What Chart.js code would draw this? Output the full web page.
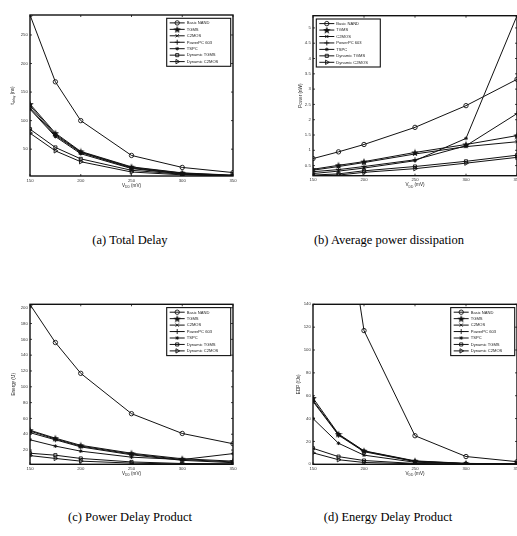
<!DOCTYPE html>
<html>
<head>
<meta charset="utf-8">
<script src="https://cdn.jsdelivr.net/npm/chart.js@4.4.0/dist/chart.umd.min.js"></script>
<style>
  html, body { margin: 0; padding: 0; background: #fff; overflow: hidden; }
  #page { position: relative; width: 517px; height: 536px; overflow: hidden; background: #fff; }
  #page canvas { position: absolute; }
  .cap { position: absolute; font-family: "Liberation Serif", "Times New Roman", serif; font-size: 12.5px;
         color: #000; white-space: nowrap; transform: translateX(-50%); line-height: 1; }
</style>
</head>
<body>
<div id="page">
  <canvas id="cA"></canvas>
  <canvas id="cB"></canvas>
  <canvas id="cC"></canvas>
  <canvas id="cD"></canvas>
  <div class="cap" style="left:130px; top:234px;">(a) Total Delay</div>
  <div class="cap" style="left:389px; top:234px;">(b) Average power dissipation</div>
  <div class="cap" style="left:130px; top:511px;">(c) Power Delay Product</div>
  <div class="cap" style="left:388px; top:511px;">(d) Energy Delay Product</div>
</div>
<script>
// Supply voltage sweep (mV)
const vdd = [150, 175, 200, 250, 300, 350];
const vddTicks = [150, 200, 250, 300, 350];
const seriesNames = ['Basic NAND', 'TGMS', 'C2MOS', 'PowerPC 603', 'TSPC', 'Dynamic TGMS', 'Dynamic C2MOS'];

// Total delay (ns), one row per series in seriesNames order
const totalDelay = [
  [285, 168, 100, 39, 18, 9],
  [129, 78, 46, 19, 8.5, 4.5],
  [126, 76, 45, 18, 8, 4],
  [122, 74, 44, 17, 7, 3.7],
  [120, 72, 42, 16, 6.5, 3.4],
  [85, 53, 33, 13, 6, 3.2],
  [78, 47, 28, 10, 5, 3]
];
const delayTicks = [50, 100, 150, 200, 250];

// Average power (nW)
const avgPower = [
  [0.73, 0.95, 1.19, 1.75, 2.46, 3.32],
  [0.38, 0.51, 0.63, 0.93, 1.19, 1.48],
  [0.35, 0.47, 0.60, 0.88, 1.12, 1.28],
  [0.30, 0.37, 0.47, 0.69, 1.15, 2.2],
  [0.24, 0.32, 0.42, 0.66, 1.39, 5.4],
  [0.19, 0.23, 0.33, 0.47, 0.64, 0.84],
  [0.17, 0.19, 0.28, 0.40, 0.58, 0.77]
];
const powerTicks = [0.5, 1, 1.5, 2, 2.5, 3, 3.5, 4, 4.5, 5];

// Power delay product (fJ)
const energy = [
  [204, 156, 117, 66, 41, 28],
  [45, 35, 26, 16, 9, 6],
  [44, 34, 25, 15, 8, 5],
  [42, 33, 24, 14, 7, 4],
  [33, 25, 18.6, 11, 8, 15.5],
  [16, 13.5, 9.4, 5, 3, 2.6],
  [13, 9.4, 6, 3.5, 2.3, 2]
];
const energyTicks = [20, 40, 60, 80, 100, 120, 140, 160, 180, 200];

// Energy delay product
const edp = [
  [580, 262, 117, 25, 6.8, 2.3],
  [58, 26.5, 11.8, 3, 0.8, 0.3],
  [56, 26, 11.5, 2.7, 0.7, 0.25],
  [55, 25.5, 11, 2.4, 0.5, 0.2],
  [40, 18.4, 8, 1.8, 0.6, 0.5],
  [14, 6.7, 3.3, 0.7, 0.2, 0.1],
  [10, 4, 1.6, 0.4, 0.1, 0.05]
];
const edpTicks = [0, 20, 40, 60, 80, 100, 120, 140];

const FONT = '"Liberation Sans", Arial, Helvetica, sans-serif';
const INK = '#111';

// filled five-point star marker
function makePentagram(size) {
  const c = document.createElement('canvas');
  c.width = size; c.height = size;
  const g = c.getContext('2d');
  g.fillStyle = INK;
  g.beginPath();
  const cx = size / 2, cy = size / 2 + 0.4, R = size / 2, r = R * 0.42;
  for (let i = 0; i < 10; i++) {
    const a = -Math.PI / 2 + i * Math.PI / 5;
    const rr = i % 2 ? r : R;
    g.lineTo(cx + rr * Math.cos(a), cy + rr * Math.sin(a));
  }
  g.closePath();
  g.fill();
  return c;
}
const starMarker = makePentagram(8);

const markerStyles = [
  { pointStyle: 'circle', radius: 2.2, rotation: 0 },
  { pointStyle: starMarker, radius: 3.5, rotation: 0 },
  { pointStyle: 'crossRot', radius: 2.2, rotation: 0 },
  { pointStyle: 'cross', radius: 2.5, rotation: 0 },
  { pointStyle: 'star', radius: 1.8, rotation: 0 },
  { pointStyle: 'rect', radius: 2.2, rotation: 0 },
  { pointStyle: 'triangle', radius: 2.5, rotation: 90 }
];

function buildDatasets(values) {
  return seriesNames.map((name, i) => ({
    label: name,
    data: vdd.map((x, j) => ({ x: x, y: values[i][j] })),
    borderColor: INK,
    borderWidth: 1,
    pointStyle: markerStyles[i].pointStyle,
    pointRadius: markerStyles[i].radius,
    pointRotation: markerStyles[i].rotation,
    pointBorderColor: INK,
    pointBackgroundColor: 'rgba(0,0,0,0)',
    pointBorderWidth: 0.9,
    tension: 0,
    fill: false
  }));
}

function measureRich(ctx, parts, size) {
  let w = 0;
  for (const [t, sub] of parts) {
    ctx.font = (sub ? size * 0.7 : size) + 'px ' + FONT;
    w += ctx.measureText(t).width;
  }
  return w;
}
function drawRich(ctx, parts, size, x, y) {
  for (const [t, sub] of parts) {
    ctx.font = (sub ? size * 0.7 : size) + 'px ' + FONT;
    ctx.fillText(t, x, y + (sub ? size * 0.3 : 0));
    x += ctx.measureText(t).width;
  }
}

// Box frame with inward ticks, axis titles and an inset legend
function axesDecor(p) {
  return {
    id: 'axesDecor',
    afterDatasetsDraw(chart) {
      const ctx = chart.ctx, a = chart.chartArea;
      const xs = chart.scales.x, ys = chart.scales.y;
      ctx.save();
      ctx.strokeStyle = INK;
      ctx.lineWidth = 0.8;
      ctx.beginPath();
      for (const v of vddTicks) {
        const px = xs.getPixelForValue(v);
        ctx.moveTo(px, a.bottom); ctx.lineTo(px, a.bottom - 2);
        ctx.moveTo(px, a.top); ctx.lineTo(px, a.top + 2);
      }
      for (const v of p.yTicks) {
        const py = ys.getPixelForValue(v);
        ctx.moveTo(a.left, py); ctx.lineTo(a.left + 2, py);
        ctx.moveTo(a.right, py); ctx.lineTo(a.right - 2, py);
      }
      ctx.stroke();
      ctx.lineWidth = 1.4;
      ctx.strokeRect(a.left, a.top, a.right - a.left, a.bottom - a.top);
      ctx.restore();
    },
    afterDraw(chart) {
      const ctx = chart.ctx, a = chart.chartArea;
      ctx.save();
      ctx.fillStyle = '#222';
      ctx.textBaseline = 'alphabetic';
      // x title
      const xParts = [['V', false], ['DD', true], [' (mV)', false]];
      const xw = measureRich(ctx, xParts, 4.6);
      drawRich(ctx, xParts, 4.6, (a.left + a.right) / 2 - xw / 2, a.bottom + 10.5);
      // y title
      const yw = measureRich(ctx, p.yTitle, 4.6);
      ctx.translate(a.left - p.yTitleOffset, (a.top + a.bottom) / 2);
      ctx.rotate(-Math.PI / 2);
      drawRich(ctx, p.yTitle, 4.6, -yw / 2, 0);
      ctx.restore();

      // legend
      const L = p.legend;
      const lw = 64, lh = 48;
      const lx = L.side === 'left' ? a.left + 3.3 : a.right - 2.3 - lw;
      const ly = a.top + 3.3;
      ctx.save();
      ctx.fillStyle = '#fff';
      ctx.fillRect(lx, ly, lw, lh);
      ctx.strokeStyle = INK;
      ctx.lineWidth = 1.1;
      ctx.strokeRect(lx, ly, lw, lh);
      ctx.font = '4.1px ' + FONT;
      ctx.textBaseline = 'middle';
      seriesNames.forEach((name, i) => {
        const ry = ly + 4.6 + i * 6.45;
        ctx.strokeStyle = INK;
        ctx.lineWidth = 1;
        ctx.beginPath();
        ctx.moveTo(lx + 3, ry); ctx.lineTo(lx + 18, ry);
        ctx.stroke();
        const m = markerStyles[i];
        ctx.fillStyle = 'rgba(0,0,0,0)';
        ctx.lineWidth = 0.9;
        Chart.helpers.drawPoint(ctx, { pointStyle: m.pointStyle, rotation: m.rotation, radius: m.radius, borderWidth: 0.9 }, lx + 10.5, ry);
        ctx.fillStyle = '#222';
        ctx.fillText(name, lx + 20, ry + 0.2);
      });
      ctx.restore();
    }
  };
}

const panels = [
  { id: 'cA', left: 0, top: 0, w: 258, h: 230, area: { l: 30, r: 233, t: 15, b: 176 },
    values: totalDelay, yMin: 3, yMax: 285, yTicks: delayTicks,
    yTitle: [['t', false], ['delay', true], [' (ns)', false]], yTitleOffset: 16, legend: { side: 'right' } },
  { id: 'cB', left: 258, top: 0, w: 285, h: 230, area: { l: 55, r: 259, t: 15.7, b: 175.7 },
    values: avgPower, yMin: 0.17, yMax: 5.4, yTicks: powerTicks,
    yTitle: [['Power (nW)', false]], yTitleOffset: 11.5, legend: { side: 'left' } },
  { id: 'cC', left: 0, top: 270, w: 258, h: 230, area: { l: 30, r: 233, t: 34.3, b: 194.3 },
    values: energy, yMin: 2, yMax: 204.3, yTicks: energyTicks,
    yTitle: [['Energy (fJ)', false]], yTitleOffset: 15, legend: { side: 'right' } },
  { id: 'cD', left: 258, top: 270, w: 285, h: 230, area: { l: 55, r: 259, t: 34.3, b: 194.3 },
    values: edp, yMin: 0, yMax: 140, yTicks: edpTicks,
    yTitle: [['EDP (fJs)', false]], yTitleOffset: 13.5, legend: { side: 'right' } }
];

const X_AXIS_H = 10;
panels.forEach(p => {
  const cv = document.getElementById(p.id);
  cv.width = p.w; cv.height = p.h;
  cv.style.left = p.left + 'px'; cv.style.top = p.top + 'px';
  cv.style.width = p.w + 'px'; cv.style.height = p.h + 'px';
  new Chart(cv, {
    type: 'line',
    data: { datasets: buildDatasets(p.values) },
    options: {
      responsive: false,
      animation: false,
      events: [],
      devicePixelRatio: 1,
      layout: { padding: { left: 0, top: p.area.t, right: p.w - p.area.r, bottom: p.h - p.area.b - X_AXIS_H } },
      plugins: { legend: { display: false }, tooltip: { enabled: false } },
      scales: {
        x: {
          type: 'linear', min: 150, max: 350,
          grid: { display: false, drawTicks: false }, border: { display: false },
          afterBuildTicks: s => { s.ticks = vddTicks.map(v => ({ value: v })); },
          afterFit: s => { s.height = X_AXIS_H; },
          ticks: { padding: 2, color: '#333', font: { family: FONT, size: 4.3 }, maxRotation: 0, autoSkip: false,
                   callback: v => String(v) }
        },
        y: {
          type: 'linear', min: p.yMin, max: p.yMax,
          grid: { display: false, drawTicks: false }, border: { display: false },
          afterBuildTicks: s => { s.ticks = p.yTicks.map(v => ({ value: v })); },
          afterFit: s => { s.width = p.area.l; },
          ticks: { padding: 2.2, color: '#333', font: { family: FONT, size: 4.3 }, autoSkip: false,
                   callback: v => String(v) }
        }
      }
    },
    plugins: [axesDecor(p)]
  });
});
</script>
</body>
</html>
